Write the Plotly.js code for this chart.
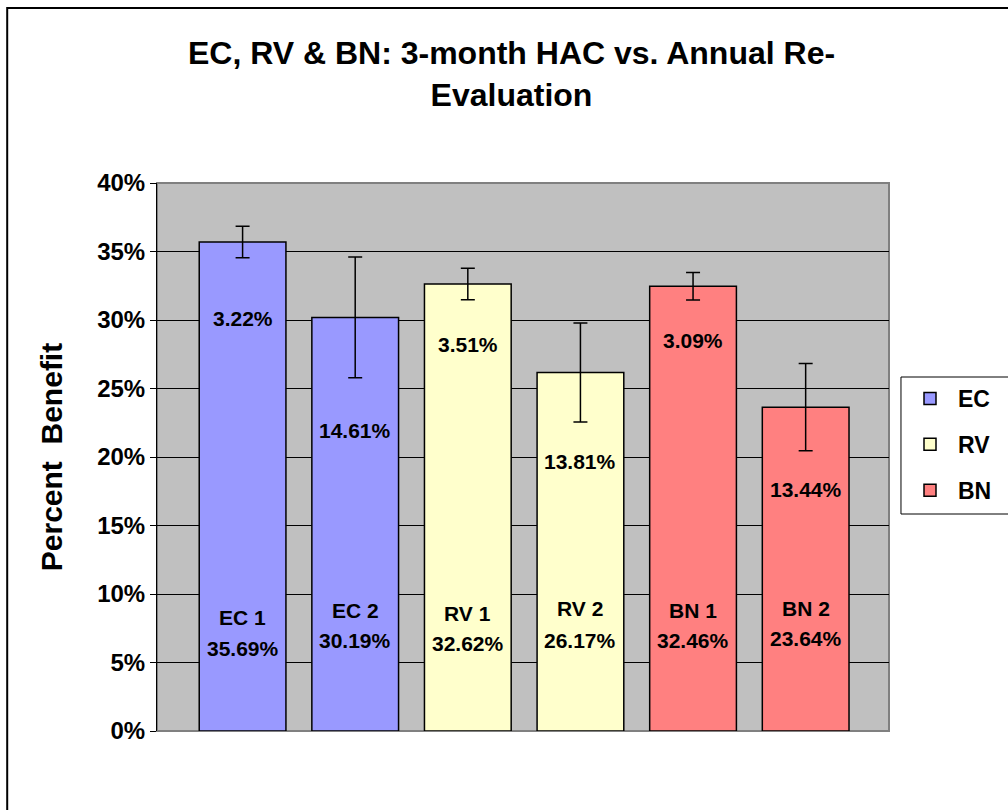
<!DOCTYPE html>
<html>
<head>
<meta charset="utf-8">
<script src="https://cdn.plot.ly/plotly-3.0.1.min.js"></script>
<style>
  html, body { margin: 0; padding: 0; background: #fff; }
  #chart { width: 1008px; height: 810px; }
</style>
</head>
<body>
<div id="chart"></div>
<script>
// ---- data ----
const categories = ['EC 1', 'EC 2', 'RV 1', 'RV 2', 'BN 1', 'BN 2'];
const groupNames = ['EC', 'RV', 'BN'];
const groupOf    = ['EC', 'EC', 'RV', 'RV', 'BN', 'BN'];
const values     = [35.69, 30.19, 32.62, 26.17, 32.46, 23.64];   // percent benefit
const errors     = [1.15, 4.41, 1.15, 3.61, 1.00, 3.18];         // error bar half-length (percent points)
const relErrLabels = ['3.22%', '14.61%', '3.51%', '13.81%', '3.09%', '13.44%'];
const yTicks     = [0, 5, 10, 15, 20, 25, 30, 35, 40];

// ---- styling ----
const colors = { EC: '#9999FF', RV: '#FFFFCC', BN: '#FF8080' };
const FONT = 'Liberation Sans, Arial, Helvetica, sans-serif';
// per-bar pixel offsets of the text boxes (layout only)
const topNoteShift  = [-76, -113, -60, -89, -54, -82];
const nameShift     = [114, 121, 118, 123, 121, 123];
const valueShift    = [83, 91, 88, 91, 91, 93];

const traces = groupNames.map(g => {
  const idx = categories.map((c, i) => i).filter(i => groupOf[i] === g);
  return {
    type: 'bar',
    name: g,
    x: idx.map(i => categories[i]),
    y: idx.map(i => values[i]),
    width: 0.77,
    marker: { color: colors[g], line: { color: '#000', width: 1.5 } },
    error_y: {
      type: 'data', array: idx.map(i => errors[i]), visible: true,
      color: '#000', thickness: 1.5, width: 7
    },
    legendgroup: g,
    hoverinfo: 'x+y'
  };
});

const annotations = [];
categories.forEach((c, i) => {
  annotations.push({
    x: c, y: values[i], xref: 'x', yref: 'y', text: relErrLabels[i],
    showarrow: false, yshift: topNoteShift[i],
    font: { family: FONT, size: 21, color: '#000', weight: 'bold' }
  });
  annotations.push({
    x: c, y: 0, xref: 'x', yref: 'y', text: c,
    showarrow: false, yshift: nameShift[i],
    font: { family: FONT, size: 21, color: '#000', weight: 'bold' }
  });
  annotations.push({
    x: c, y: 0, xref: 'x', yref: 'y', text: values[i].toFixed(2) + '%',
    showarrow: false, yshift: valueShift[i],
    font: { family: FONT, size: 21, color: '#000', weight: 'bold' }
  });
});

const W = 1008, H = 810, L = 157, R = 118, T = 183, B = 79;
const pw = W - L - R, ph = H - T - B;
const px2x = p => (p - L) / pw;
const py2y = p => (H - B - p) / ph;

const layout = {
  width: W, height: H,
  margin: { l: L, r: R, t: T, b: B, pad: 0 },
  paper_bgcolor: '#FFFFFF',
  plot_bgcolor: '#C0C0C0',
  barmode: 'overlay',
  showlegend: true,
  title: {
    text: 'EC, RV &amp; BN: 3-month HAC vs. Annual Re-<br>Evaluation',
    font: { family: FONT, size: 32, color: '#000', weight: 'bold' },
    x: 511.5 / W, xanchor: 'center', xref: 'container',
    y: 1 - 64 / H, yanchor: 'top', yref: 'container'
  },
  xaxis: {
    type: 'category',
    categoryarray: categories, categoryorder: 'array',
    range: [-0.76, 5.74],
    showticklabels: false, ticks: '', showgrid: false, zeroline: false,
    showline: false, fixedrange: true
  },
  yaxis: {
    range: [0, 40],
    tickvals: yTicks,
    ticktext: yTicks.map(v => v + '%'),
    tickfont: { family: FONT, size: 24, color: '#000', weight: 'bold' },
    ticks: 'outside', ticklen: 6, tickcolor: '#000', tickwidth: 1,
    showgrid: true, gridcolor: '#000', gridwidth: 1,
    zeroline: false,
    showline: true, linecolor: '#000', linewidth: 1,
    title: {
      text: 'Percent  Benefit',
      font: { family: FONT, size: 30, color: '#000', weight: 'bold' },
      standoff: 25
    },
    automargin: false,
    fixedrange: true
  },
  legend: {
    x: px2x(902), y: py2y(377), xanchor: 'left', yanchor: 'top',
    xref: 'paper', yref: 'paper',
    bgcolor: 'rgba(0,0,0,0)', borderwidth: 0,
    font: { family: FONT, size: 23, color: '#000', weight: 'bold' },
    traceorder: 'grouped', tracegroupgap: 13,
    itemwidth: 46
  },
  shapes: [
    { type: 'rect', xref: 'paper', yref: 'paper', x0: 0, x1: 1, y0: 0, y1: 1,
      line: { color: '#808080', width: 2 }, fillcolor: 'rgba(0,0,0,0)', layer: 'between' },
    // legend frame (runs off the right edge as in the reference)
    { type: 'rect', xref: 'paper', yref: 'paper',
      x0: px2x(902), x1: px2x(1040), y0: py2y(514), y1: py2y(377),
      line: { color: '#000', width: 1 }, fillcolor: '#FFFFFF', layer: 'below' },
    // outer chart frame
    { type: 'rect', xref: 'paper', yref: 'paper',
      x0: px2x(7), x1: px2x(1030), y0: py2y(830), y1: py2y(8),
      line: { color: '#000', width: 2 }, fillcolor: 'rgba(0,0,0,0)', layer: 'above' }
  ],
  annotations: annotations
};

Plotly.newPlot('chart', traces, layout, { displayModeBar: false, staticPlot: true });
</script>
</body>
</html>
